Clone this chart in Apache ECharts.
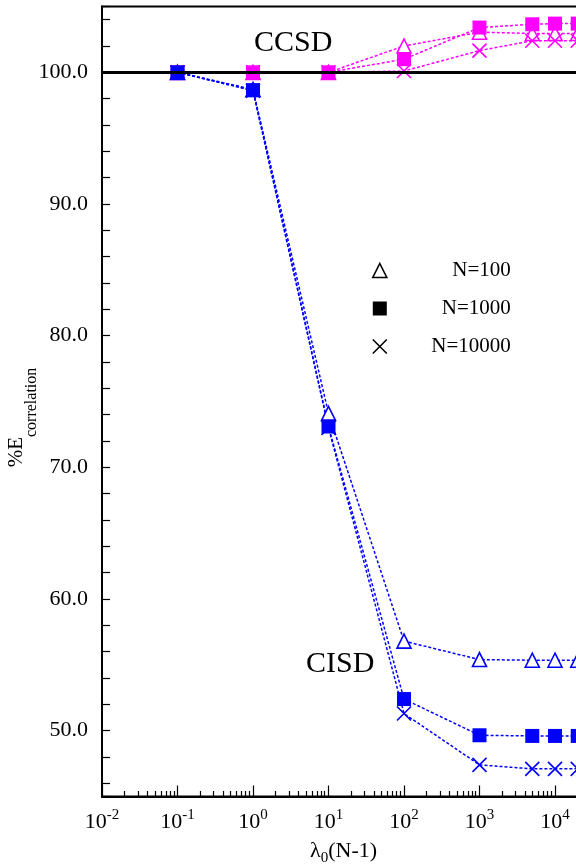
<!DOCTYPE html>
<html>
<head>
<meta charset="utf-8">
<script src="https://cdn.jsdelivr.net/npm/echarts@6/dist/echarts.min.js"></script>
<style>
html,body{margin:0;padding:0;background:#fff;}
#chart{width:576px;height:867px;}
</style>
</head>
<body>
<div id="chart"></div>
<script>
// ---- data ----
const xValues = [0.1, 1, 10, 100, 1000, 5000, 10000, 20000];
const cisdN100 = [100, 98.7, 74.1, 56.8, 55.4, 55.35, 55.35, 55.35];
const cisdN1000 = [100, 98.65, 73.1, 52.4, 49.65, 49.6, 49.6, 49.6];
const cisdN10000 = [100, 98.6, 73.0, 51.3, 47.4, 47.1, 47.1, 47.1];
const ccsdN100 = [100, 100, 100, 102.0, 103.05, 102.95, 102.95, 102.95];
const ccsdN1000 = [100, 100, 100, 101.0, 103.4, 103.65, 103.7, 103.7];
const ccsdN10000 = [100, 100, 100, 100.1, 101.65, 102.4, 102.4, 102.4];
const seriesNames = ['N=100', 'N=1000', 'N=10000'];
const methodLabels = ['CCSD', 'CISD'];
const refLineValue = 100;
const yMin = 45, yMax = 105;
const xMin = 0.01, xMaxExp = 4.4;
const minorMultipliers = [2, 3, 4, 5, 6, 7, 8, 9];

// ---- layout ----
const FONT = "'Liberation Serif', 'Times New Roman', serif";
const GL = 102, GT = 6.5, GH = 790, DEC = 75.5;
const GW = (xMaxExp + 2) * DEC;
const BLUE = '#0000ff', MAG = '#ff00ff';
const XPATH = 'path://M0,0L10,10M0,10L10,0';

function pairs(ys) { return xValues.map((x, i) => [x, ys[i]]); }

function mk(name, ys, color, kind, z) {
  const s = {
    name: name, type: 'line', xAxisIndex: 0, yAxisIndex: 0, z: z,
    data: pairs(ys), symbolSize: 13,
    lineStyle: {color: color, width: 1.5, type: [3, 2]},
    emphasis: {disabled: true}
  };
  if (kind === 'tri') {
    s.symbol = 'triangle'; s.symbolSize = 14;
    s.itemStyle = {color: '#fff', borderColor: color, borderWidth: 1.6};
  } else if (kind === 'sq') {
    s.symbol = 'rect'; s.symbolSize = 14;
    s.itemStyle = {color: color, borderWidth: 0};
  } else {
    s.symbol = XPATH; s.symbolSize = 14;
    s.itemStyle = {color: color, borderColor: color, borderWidth: 1.6};
  }
  return s;
}

const series = [
  mk(seriesNames[0], ccsdN100, MAG, 'tri', 2),
  mk(seriesNames[2], ccsdN10000, MAG, 'x', 2),
  mk(seriesNames[1], ccsdN1000, MAG, 'sq', 2),
  mk(seriesNames[0], cisdN100, BLUE, 'tri', 3),
  mk(seriesNames[2], cisdN10000, BLUE, 'x', 3),
  mk(seriesNames[1], cisdN1000, BLUE, 'sq', 3)
];
series[5].markLine = {
  silent: true, symbol: ['none', 'none'], z: 6,
  label: {show: false},
  lineStyle: {color: '#000', width: 3, type: 'solid'},
  data: [{yAxis: refLineValue}]
};

const grids = [{left: GL, top: GT, width: GW, height: GH, show: true, borderColor: '#000', borderWidth: 2,
  containLabel: false, outerBoundsMode: 'none'}];
const xAxes = [{
  type: 'log', logBase: 10, gridIndex: 0, min: xMin, max: Math.pow(10, xMaxExp),
  name: '{a|λ}{b|0}{a|(N-1)}', nameLocation: 'middle', nameGap: 44, nameMoveOverlap: false,
  nameTextStyle: {rich: {
    a: {fontFamily: FONT, fontSize: 22, color: '#000', lineHeight: 22, verticalAlign: 'top'},
    b: {fontFamily: FONT, fontSize: 15, color: '#000', lineHeight: 12, padding: [10, 0, 0, 0], verticalAlign: 'top'}
  }},
  axisLine: {show: true, lineStyle: {color: '#000', width: 2}},
  axisTick: {show: true, inside: true, length: 11, lineStyle: {color: '#000', width: 1.2}},
  minorTick: {show: false},
  splitLine: {show: false},
  axisLabel: {
    margin: 11,
    formatter: function (v) {
      const l = Math.log10(v), e = Math.round(l);
      if (Math.abs(l - e) > 1e-6) return '';
      return '{b|10}{s|' + e + '}';
    },
    rich: {
      b: {fontFamily: FONT, fontSize: 22, color: '#000', lineHeight: 30},
      s: {fontFamily: FONT, fontSize: 15, color: '#000', lineHeight: 12, verticalAlign: 'top'}
    }
  }
}];
const yAxes = [{
  type: 'value', gridIndex: 0, min: yMin, max: yMax, minInterval: 2, maxInterval: 2,
  name: '{a|%E}{b|correlation}', nameLocation: 'middle', nameGap: 74, nameMoveOverlap: false,
  nameTextStyle: {padding: [0, 32, 0, 0], rich: {
    a: {fontFamily: FONT, fontSize: 21, color: '#000', lineHeight: 22, verticalAlign: 'top'},
    b: {fontFamily: FONT, fontSize: 16, color: '#000', lineHeight: 12, padding: [18, 0, 0, 0], verticalAlign: 'top'}
  }},
  axisLine: {show: true, lineStyle: {color: '#000', width: 2}},
  axisTick: {show: true, inside: true, length: 8, lineStyle: {color: '#000', width: 1.2}},
  splitLine: {show: false},
  axisLabel: {
    margin: 14, fontFamily: FONT, fontSize: 22, color: '#000',
    formatter: function (v) { return Math.abs(v % 10) < 1e-9 ? v.toFixed(1) : ''; }
  }
}];

minorMultipliers.forEach(function (k, i) {
  const off = Math.log10(k);
  grids.push({left: GL + off * DEC, top: GT, width: GW, height: GH, show: false,
    containLabel: false, outerBoundsMode: 'none'});
  xAxes.push({
    type: 'value', gridIndex: i + 1, min: -2 + off, max: xMaxExp + off, interval: 1,
    axisLine: {show: false}, axisLabel: {show: false}, splitLine: {show: false},
    axisTick: {show: true, inside: true, length: 5.5, lineStyle: {color: '#000', width: 1.2}}
  });
  yAxes.push({type: 'value', gridIndex: i + 1, show: false, min: 0, max: 1});
});

const chart = echarts.init(document.getElementById('chart'), null, {renderer: 'canvas'});
chart.setOption({
  animation: false,
  backgroundColor: '#fff',
  grid: grids,
  xAxis: xAxes,
  yAxis: yAxes,
  legend: {
    orient: 'vertical', left: 367, top: 255, itemWidth: 14, itemHeight: 14, itemGap: 17,
    selectedMode: false,
    lineStyle: {opacity: 0},
    data: [
      {name: seriesNames[0], icon: 'triangle', itemStyle: {color: '#fff', borderColor: '#000', borderWidth: 1.6}},
      {name: seriesNames[1], icon: 'rect', itemStyle: {color: '#000', borderWidth: 0}},
      {name: seriesNames[2], icon: XPATH, itemStyle: {color: '#000', borderColor: '#000', borderWidth: 1.6}}
    ],
    formatter: function (n) { return '{t|' + n + '}'; },
    textStyle: {rich: {t: {width: 119, align: 'right', fontFamily: FONT, fontSize: 21, color: '#000', lineHeight: 22}}}
  },
  graphic: [
    {type: 'text', left: 254, top: 28, style: {text: methodLabels[0], font: '30px ' + FONT, fill: '#000'}},
    {type: 'text', left: 306, top: 649, style: {text: methodLabels[1], font: '30px ' + FONT, fill: '#000'}}
  ],
  series: series
});
</script>
</body>
</html>
